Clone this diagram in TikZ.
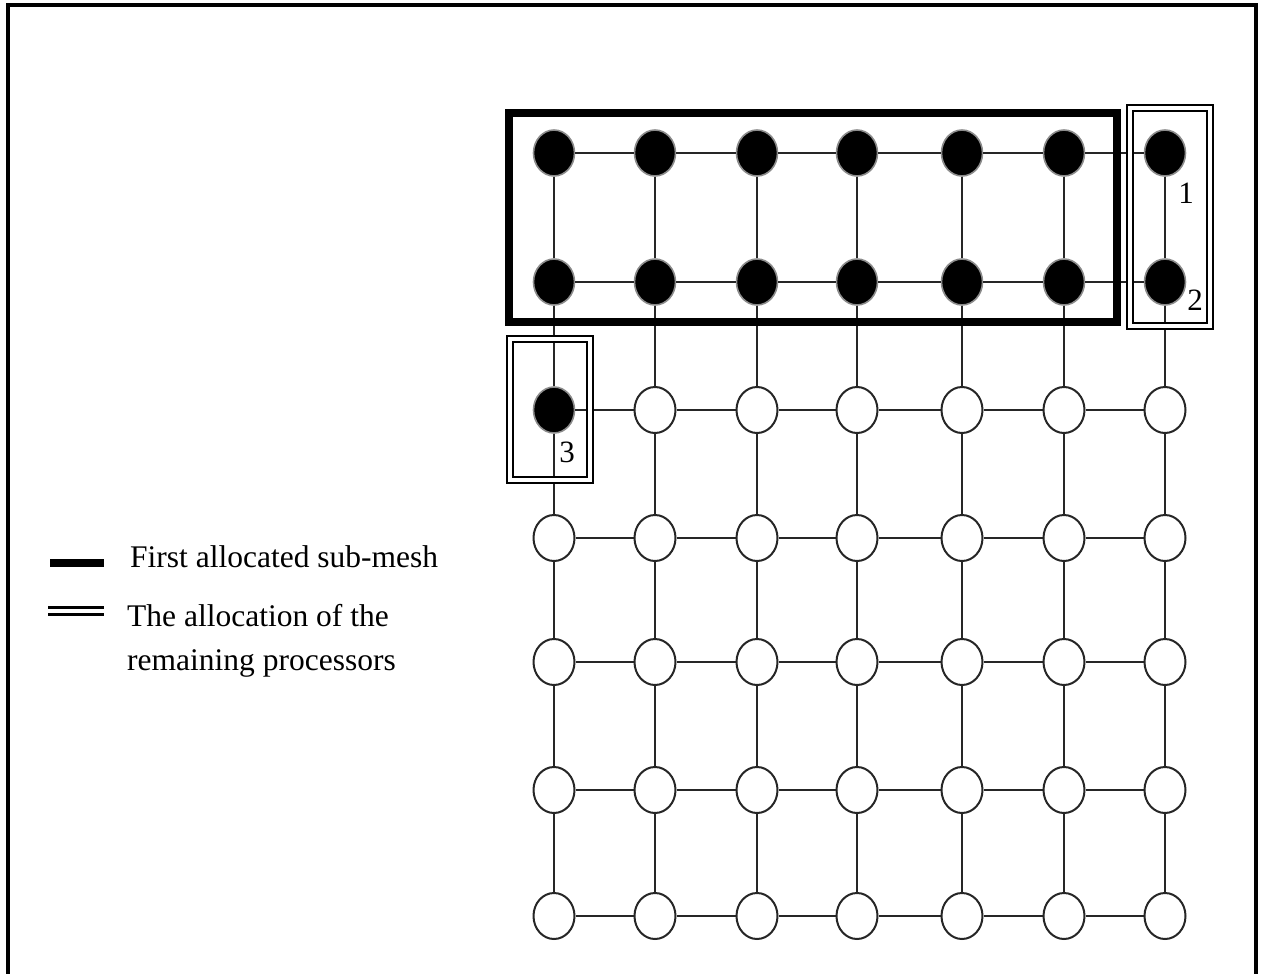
\documentclass[tikz,border=0pt]{standalone}
\usepackage{fontspec}
\setmainfont{Liberation Serif}
\usetikzlibrary{shapes.geometric}
\begin{document}
\begin{tikzpicture}[x=1pt,y=-1pt,
  proc/.style={ellipse, minimum width=41pt, minimum height=46pt, inner sep=0pt},
  free/.style={proc, draw=black!85, line width=2pt, fill=white},
  busy/.style={proc, draw=black!45, line width=1.6pt, fill=black},
  link/.style={draw=black!85, line width=1.6pt},
  subbox/.style={draw=black, line width=8pt},
  dblbox/.style={draw=black, double=white, line width=2.7pt, double distance=3.4pt},
  lbl/.style={font=\fontsize{31}{33}\selectfont, inner sep=0pt},
  legtext/.style={font=\fontsize{31.5}{44}\selectfont, inner sep=0pt, anchor=base west}
  ]
\useasboundingbox (0,0) rectangle (1262,974);
% outer frame (open at bottom)
\draw[line width=3.5pt] (8,974) -- (8,5) -- (1256,5) -- (1256,974);

% processors
\foreach \x [count=\i] in {554,655,757,857,962,1064,1165} {
  \foreach \y [count=\j] in {153,282,410,538,662,790,916} {
    \ifnum\j<3
      \tikzset{cur/.style={busy}}
    \else
      \ifnum\j=3
        \ifnum\i=1 \tikzset{cur/.style={busy}}\else\tikzset{cur/.style={free}}\fi
      \else
        \tikzset{cur/.style={free}}
      \fi
    \fi
    \node[cur] (n-\i-\j) at (\x,\y) {};
  }
}

% mesh links
\foreach \i in {1,...,7} {
  \foreach \j [evaluate=\j as \k using int(\j+1)] in {1,...,6} {
    \draw[link] (n-\i-\j) -- (n-\i-\k);
    \draw[link] (n-\j-\i) -- (n-\k-\i);
  }
}

% allocation boxes
\draw[subbox] (509,113) rectangle (1117,322);
\draw[dblbox] (1130,108) rectangle (1210,326);
\draw[dblbox] (510,339) rectangle (590,480);

% labels
\node[lbl] (l1) at (1186,193) {1};
\node[lbl] (l2) at (1195,300) {2};
\node[lbl] (l3) at (567,452) {3};

% legend
\coordinate (b1) at (50,563);
\coordinate (b2) at (104,563);
\draw[line width=8pt] (b1) -- (b2);
\coordinate (d1) at (48,611);
\coordinate (d2) at (104,611);
\draw[double=white, line width=3pt, double distance=3.2pt] (d1) -- (d2);
\node[legtext] (t1) at (130,567) {First allocated sub-mesh};
\node[legtext] (t2) at (127,626) {The allocation of the};
\node[legtext] (t3) at (127,670) {remaining processors};
\end{tikzpicture}
\end{document}
